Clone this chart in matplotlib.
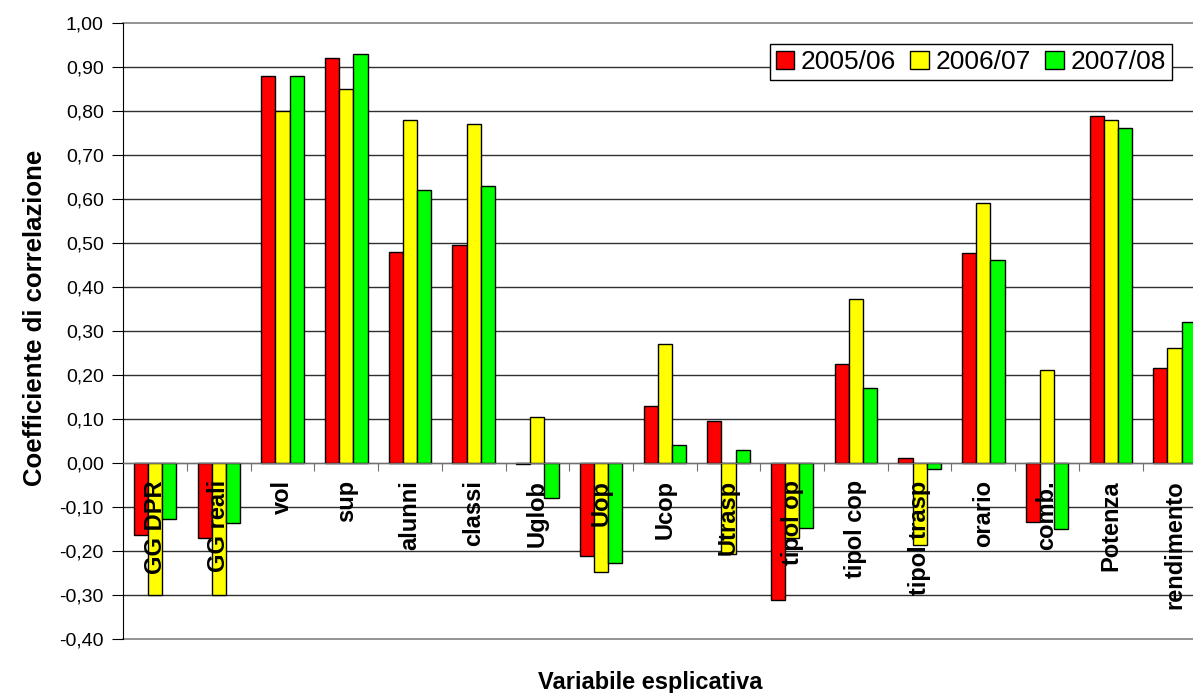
import numpy as np
import matplotlib.pyplot as plt
from matplotlib.patches import Patch

plt.rcParams['font.family'] = ['Liberation Sans', 'DejaVu Sans']

# dati
categorie = ['GG DPR', 'GG reali', 'vol', 'sup', 'alunni', 'classi', 'Uglob', 'Uop',
             'Ucop', 'Utrasp', 'tipol op', 'tipol cop', 'tipol trasp', 'orario',
             'comb.', 'Potenza', 'rendimento']
anni = ['2005/06', '2006/07', '2007/08']
v_0506 = [-0.165, -0.17, 0.88, 0.92, 0.48, 0.495, -0.004, -0.212, 0.128, 0.094,
          -0.313, 0.224, 0.01, 0.476, -0.135, 0.787, 0.216]
v_0607 = [-0.30, -0.30, 0.80, 0.85, 0.78, 0.77, 0.103, -0.248, 0.27, -0.207,
          -0.17, 0.372, -0.186, 0.59, 0.21, 0.78, 0.26]
v_0708 = [-0.128, -0.138, 0.88, 0.93, 0.62, 0.63, -0.081, -0.228, 0.041, 0.03,
          -0.148, 0.17, -0.015, 0.46, -0.15, 0.76, 0.32]
colori = ['#FF0000', '#FFFF00', '#00FF00']

fig = plt.figure(figsize=(11.93, 6.93), dpi=100)
# il grafico originale e' tagliato a destra
ax = fig.add_axes([123.3 / 1193, 1 - 638.7 / 693, 1083 / 1193, 616 / 693])

x = np.arange(len(categorie))
w = 1 / 4.5
for k, (serie, col) in enumerate(zip([v_0506, v_0607, v_0708], colori)):
    ax.bar(x + (k - 1) * w, serie, w, color=col, edgecolor='black', linewidth=1, zorder=3)

ax.set_xlim(-0.5, len(categorie) - 0.5)
ax.set_ylim(-0.40, 1.00)
yt = np.round(np.arange(-0.40, 1.001, 0.10), 2)
ax.set_yticks(yt)
ax.set_yticklabels([f'{abs(v) if abs(v) < 1e-9 else v:.2f}'.replace('.', ',') for v in yt],
                   fontsize=14)
for v in yt:
    bordo = abs(v - 1.0) < 1e-9 or abs(v + 0.4) < 1e-9
    ax.axhline(v, color='#8a8a8a' if bordo else '#303030', linewidth=1.3 if bordo else 1,
               zorder=0, clip_on=False)

ax.spines['top'].set_visible(False)
ax.spines['right'].set_visible(False)
ax.spines['left'].set_color('black')
ax.spines['bottom'].set_position(('data', 0))
ax.spines['bottom'].set_color('#707070')
ax.spines['bottom'].set_zorder(4)
ax.tick_params(axis='y', direction='out', length=8, color='black', pad=6)
ax.set_xticks(np.arange(0.5, len(categorie), 1))
ax.set_xticklabels([])
ax.tick_params(axis='x', direction='out', length=6, color='#707070')

for i, c in enumerate(categorie):
    ax.text(i, -0.04, c, rotation=90, ha='center', va='top', fontsize=17,
            fontweight='bold', zorder=5)

fig.text(35 / 1193, 1 - 318 / 693, 'Coefficiente di correlazione', rotation=90,
         ha='center', va='center', fontsize=18.5, fontweight='bold')
fig.text(650 / 1193, 1 - 683 / 693, 'Variabile esplicativa', ha='center',
         va='center', fontsize=17, fontweight='bold')

handles = [Patch(facecolor=c, edgecolor='black', linewidth=1) for c in colori]
leg = ax.legend(handles, anni, loc='upper right', bbox_to_anchor=(0.968, 0.965),
                ncol=3, fontsize=19, frameon=True, fancybox=False, edgecolor='black',
                framealpha=1, handlelength=0.7, handleheight=0.7, handletextpad=0.25,
                columnspacing=0.55, borderpad=0.22, borderaxespad=0)
leg.get_frame().set_linewidth(1)
leg.set_zorder(6)

fig.savefig('out.png', dpi=100)
